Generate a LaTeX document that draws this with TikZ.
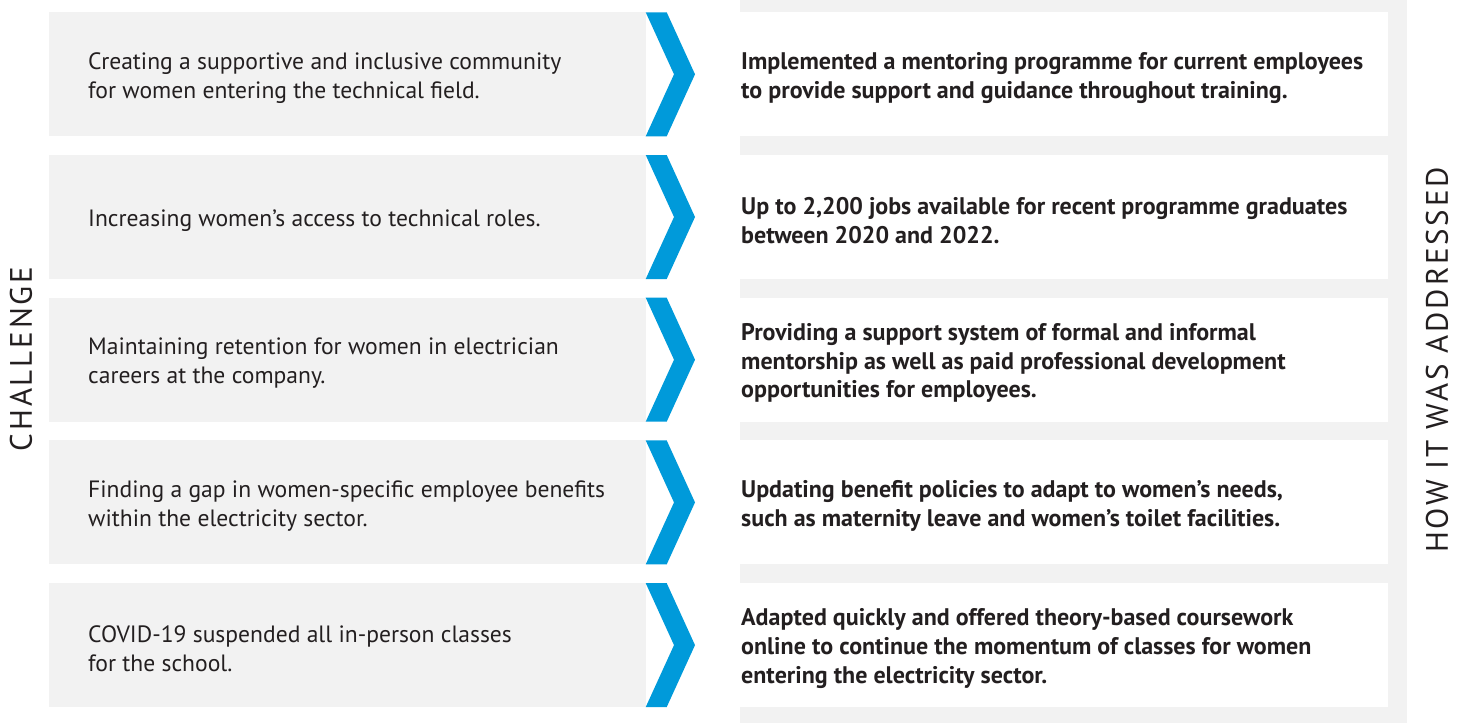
\documentclass[tikz,border=0pt]{standalone}
\usepackage{fontspec}
\setmainfont{PT Sans}
\newfontfamily\labelfont[LetterSpace=9]{PT Sans}
\definecolor{boxgray}{HTML}{F2F2F2}
\definecolor{chevblue}{HTML}{009ADA}
\definecolor{txt}{HTML}{231F20}
\tikzset{
  leftbox/.style={fill=boxgray, draw=none},
  chev/.style={fill=chevblue, draw=none},
  lefttext/.style={anchor=west, align=left, text=txt, font=\fontsize{23.6}{28.7}\selectfont, inner sep=0},
  righttext/.style={anchor=west, align=left, text=txt, font=\bfseries\fontsize{24}{28.7}\selectfont, inner sep=0},
  sidelabel/.style={rotate=90, text=txt, font=\labelfont\fontsize{31}{31}\selectfont, inner sep=0}
}
\begin{document}
\begin{tikzpicture}[x=1pt,y=-1pt]
\useasboundingbox (0,0) rectangle (1466,723);
\fill[boxgray] (740,0) rectangle (1407,723);
\foreach \i/\l/\r in {
 0/{Creating a supportive and inclusive community\\for women entering the technical field.}/{Implemented a mentoring programme for current employees\\to provide support and guidance throughout training.},
 1/{Increasing women’s access to technical roles.}/{Up to 2,200 jobs available for recent programme graduates\\between 2020 and 2022.},
 2/{Maintaining retention for women in electrician\\careers at the company.}/{Providing a support system of formal and informal\\mentorship as well as paid professional development\\opportunities for employees.},
 3/{Finding a gap in women-specific employee benefits\\within the electricity sector.}/{Updating benefit policies to adapt to women’s needs,\\such as maternity leave and women’s toilet facilities.},
 4/{COVID-19 suspended all in-person classes\\for the school.}/{Adapted quickly and offered theory-based coursework\\online to continue the momentum of classes for women\\entering the electricity sector.}}{
  \pgfmathsetmacro{\top}{12.3+142.7*\i}
  \pgfmathsetmacro{\bot}{\top+124}
  \pgfmathsetmacro{\mid}{\top+62}
  \pgfmathsetmacro{\tmid}{\mid+3.5}
  \fill[leftbox] (49,\top) rectangle (646,\bot);
  \fill[white] (740,\top) rectangle (1388,\bot);
  \fill[chev] (645.7,\top) -- (666.7,\top) -- (695,\mid) -- (666.7,\bot) -- (645.7,\bot) -- (674,\mid) -- cycle;
  \node[lefttext] (l\i) at (88,\tmid) {\l};
  \node[righttext] (r\i) at (741,\tmid) {\r};
}
\node[sidelabel] (challenge) at (21,359) {CHALLENGE};
\node[sidelabel] (how) at (1437,360) {HOW IT WAS ADDRESSED};
\end{tikzpicture}
\end{document}
